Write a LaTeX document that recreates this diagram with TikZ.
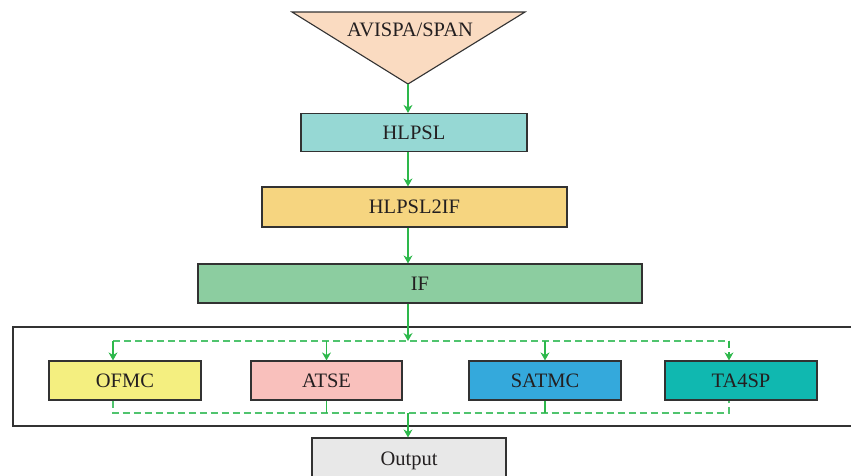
\documentclass[tikz,border=0pt]{standalone}
\usepackage{fontspec}
\setmainfont{Liberation Serif}
\usepackage{tikz}
\usetikzlibrary{arrows.meta}
\definecolor{peach}{RGB}{250,219,193}
\definecolor{hlpslc}{RGB}{150,216,212}
\definecolor{transc}{RGB}{246,213,128}
\definecolor{ifc}{RGB}{140,205,160}
\definecolor{ofmcc}{RGB}{244,239,128}
\definecolor{atsec}{RGB}{249,192,188}
\definecolor{satmcc}{RGB}{52,169,220}
\definecolor{tafc}{RGB}{16,184,176}
\definecolor{outc}{RGB}{232,232,232}
\definecolor{arrowc}{RGB}{45,184,75}
\definecolor{dashc}{RGB}{80,196,110}
\definecolor{edgec}{RGB}{50,50,50}
\definecolor{textc}{RGB}{35,31,32}

\begin{document}
\begin{tikzpicture}[x=1pt,y=-1pt,
    box/.style={draw=edgec, line width=1.2pt, inner sep=0pt, text=textc,
        font=\fontsize{20.5}{24}\selectfont},
    flow/.style={arrowc, line width=1.2pt, -{Stealth[length=8pt,width=9pt]}},
    dline/.style={dashc, line width=1.5pt, dash pattern=on 7pt off 4pt}]
			\clip (0,0) rectangle (851,475);
			% input triangle
			\filldraw[draw=edgec, fill=peach, line width=1.1pt] (292,12) -- (525,12) -- (408,84) -- cycle;
			\coordinate (apex) at (408,84);
			\node[text=textc, font=\fontsize{20.5}{24}\selectfont] (avispa) at (410,30) {AVISPA/SPAN};
			% translation chain
			\node[box, fill=hlpslc, minimum width=226, minimum height=38] (hlpsl) at (414,132.5) {HLPSL};
			\node[box, fill=transc, minimum width=305, minimum height=40] (hlpsl2if) at (414.5,207) {HLPSL2IF};
			\node[box, fill=ifc, minimum width=444, minimum height=39] (if) at (420,283.5) {IF};
			% back ends
			\draw[edgec, line width=1.2pt] (13,327) rectangle (855,426);
			\node[box, fill=ofmcc, minimum width=152, minimum height=39] (ofmc) at (125,380.5) {OFMC};
			\node[box, fill=atsec, minimum width=151, minimum height=39] (atse) at (326.5,380.5) {ATSE};
			\node[box, fill=satmcc, minimum width=152, minimum height=39] (satmc) at (545,380.5) {SATMC};
			\node[box, fill=tafc, minimum width=152, minimum height=39] (ta4sp) at (741,380.5) {TA4SP};
			\node[box, fill=outc, minimum width=194, minimum height=42, text depth=0pt] (output) at (409,459) {Output};
			\coordinate (tl) at (113,341);
			\coordinate (tr) at (729,341);
			\coordinate (bl) at (113,413);
			\coordinate (br) at (729,413);
			% connectors
			\draw[flow] (apex) -- (apex |- hlpsl.north);
			\draw[flow] (apex |- hlpsl.south) -- (apex |- hlpsl2if.north);
			\draw[flow] (apex |- hlpsl2if.south) -- (apex |- if.north);
			\draw[dline] (tl) -- (tr);
			\draw[dline] (ofmc.south -| bl) -- (bl) -- (br) -- (br |- ta4sp.south);
			\draw[flow] (apex |- if.south) -- (apex |- tl);
			\draw[flow] (tl) -- (tl |- ofmc.north);
			\draw[flow] (atse.north |- tl) -- (atse.north);
			\draw[flow] (satmc.north |- tl) -- (satmc.north);
			\draw[flow, dash pattern=on 7pt off 4pt] (tr) -- (tr |- ta4sp.north);
			\draw[arrowc, line width=1.2pt] (atse.south) -- (atse.south |- bl);
			\draw[arrowc, line width=1.2pt] (satmc.south) -- (satmc.south |- bl);
			\draw[flow] (apex |- bl) -- (apex |- output.north);
		\end{tikzpicture}
\end{document}
